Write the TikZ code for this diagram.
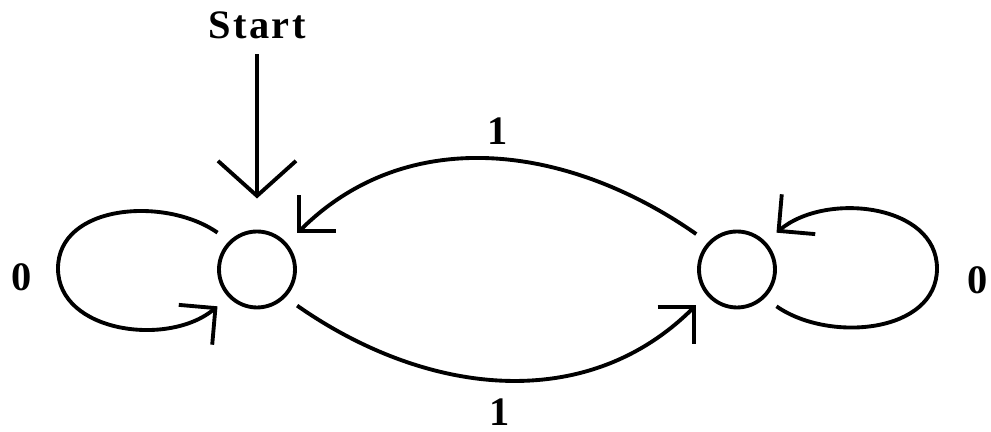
\documentclass[tikz,border=0pt]{standalone}
\usepackage{fontspec}
\setmainfont{Liberation Serif}
\usetikzlibrary{arrows.meta}

\begin{document}
\begin{tikzpicture}[>={Straight Barb[length=5.2mm,width=10.4mm]},line width=2.2pt,
  every node/.style={font=\fontsize{23}{27}\selectfont\bfseries,inner sep=1pt},
  st/.style={draw,circle,minimum size=15.2mm,inner sep=0pt,outer sep=3.2mm}]
\useasboundingbox (0,0) rectangle (19.82,8.64);
\node[st] (q0) at (5.14,3.25) {};
\node[st] (q1) at (14.74,3.25) {};
\node (start) at (5.14,8.14) {\addfontfeature{LetterSpace=6}Start};
\node (one1) at (9.96,6.02) {1};
\node (one2) at (10.0,0.4) {1};
\node (zero0) at (0.43,3.09) {0};
\node (zero1) at (19.56,3.04) {0};
\coordinate (lp0) at (1.16,3.27);
\coordinate (lp1) at (18.74,3.27);
\draw[-{Straight Barb[length=7mm,width=15.6mm]},shorten <=2.4mm,shorten >=3.4mm] (start) -- (q0);
\draw[->] (q1.139) to[out=145,in=45] (q0.42);
\draw[->] (q0.-42) to[out=-35,in=-135] (q1.-139);
% self loops
\draw[->] (q0.137) to[out=145,in=90] (lp0) to[out=-90,in=220] (q0.-137);
\draw[->] (q1.-43) to[out=-35,in=-90] (lp1) to[out=90,in=40] (q1.43);
\end{tikzpicture}
\end{document}
